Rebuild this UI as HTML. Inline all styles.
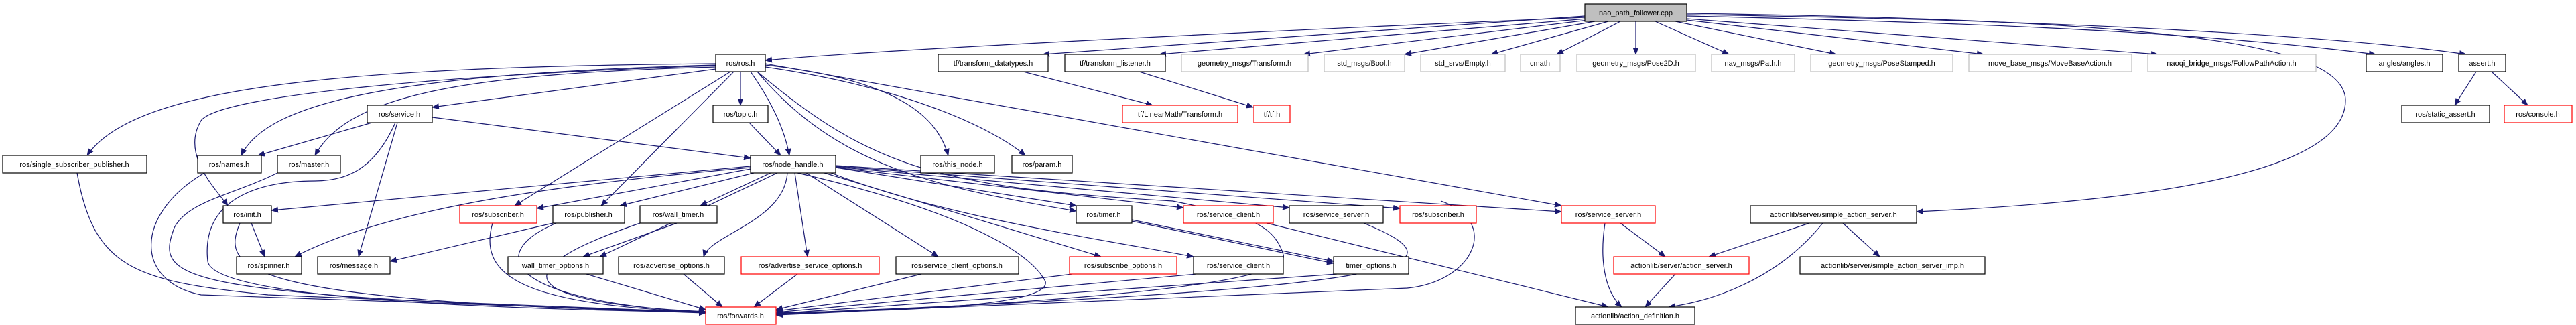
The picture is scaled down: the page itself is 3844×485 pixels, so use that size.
<!DOCTYPE html>
<html><head><meta charset="utf-8"><style>
html,body{margin:0;padding:0;background:#fff;}
svg{display:block;}
text{font-family:"Liberation Sans",sans-serif;font-size:11px;fill:#000;text-anchor:middle;}
.e{fill:none;stroke:#191970;stroke-width:1.2;}
.b{fill:#fff;stroke:#000;stroke-width:1.2;}
.g{fill:#fff;stroke:#bfbfbf;stroke-width:1.2;}
.r{fill:#fff;stroke:#ff0000;stroke-width:1.2;}
</style></head><body>
<svg width="3844" height="485" viewBox="0 0 3844 485" xmlns="http://www.w3.org/2000/svg">
<defs><marker id="a" markerUnits="userSpaceOnUse" markerWidth="11" markerHeight="9" refX="10" refY="4.5" orient="auto"><path d="M0,0 L11,4.5 L0,9 z" fill="#191970"/></marker></defs>
<g class="e" marker-end="url(#a)">
<path d="M2365,26 C1800,50 1300,75 1142,90"/>
<path d="M2365,24 L1556,81"/>
<path d="M2368,28 L1730,81"/>
<path d="M2370,30 L1945,81"/>
<path d="M2380,32 L2096,81"/>
<path d="M2400,32 L2225,81"/>
<path d="M2418,32 L2323,81"/>
<path d="M2441,32 L2441,81"/>
<path d="M2470,32 L2580,81"/>
<path d="M2500,32 L2740,81"/>
<path d="M2517,30 L2960,81"/>
<path d="M2517,28 L3220,81"/>
<path d="M2517,24 C3000,35 3300,50 3545,81"/>
<path d="M2517,22 C3100,30 3500,55 3680,81"/>
<path d="M2517,20 C3200,30 3500,60 3500,150 C3500,260 3200,300 2860,316"/>
<path d="M1068,95 C500,100 200,130 130,232"/>
<path d="M1068,97 C600,110 400,150 360,232"/>
<path d="M1068,100 C700,110 520,140 470,232"/>
<path d="M1068,98 C700,110 330,140 300,180 C270,230 320,280 340,307"/>
<path d="M1068,103 L645,160"/>
<path d="M1090,107 L768,307"/>
<path d="M1095,107 L897,307"/>
<path d="M1105,107 L1105,157"/>
<path d="M1120,107 C1150,150 1170,190 1178,232"/>
<path d="M1130,107 C1250,250 1400,280 1606,315"/>
<path d="M1142,97 C1350,120 1400,180 1415,232"/>
<path d="M1142,100 C1350,130 1480,190 1530,232"/>
<path d="M1142,95 L2330,307"/>
<path d="M555,183 L385,232"/>
<path d="M645,175 L1120,236"/>
<path d="M593,183 L535,383"/>
<path d="M1118,183 L1165,232"/>
<path d="M1120,248 L405,314"/>
<path d="M1120,250 C900,270 600,300 440,383"/>
<path d="M1120,252 L801,311"/>
<path d="M1125,258 L925,307"/>
<path d="M1150,258 L1045,307"/>
<path d="M1160,258 L895,383"/>
<path d="M1175,258 C1170,330 1060,350 1050,383"/>
<path d="M1186,258 L1205,383"/>
<path d="M1203,258 L1400,383"/>
<path d="M1230,258 L1643,383"/>
<path d="M1240,258 C1400,320 1600,350 1781,383"/>
<path d="M1247,250 L1606,307"/>
<path d="M1247,250 L1766,310"/>
<path d="M1247,249 L1924,310"/>
<path d="M1247,248 L2089,311"/>
<path d="M1247,247 L2330,316"/>
<path d="M1010,333 L870,383"/>
<path d="M825,333 L582,390"/>
<path d="M375,333 L395,383"/>
<path d="M1689,330 L1990,393"/>
<path d="M1689,328 L1990,390"/>
<path d="M1890,333 L2400,458"/>
<path d="M2418,333 L2485,383"/>
<path d="M2395,333 C2385,400 2400,440 2420,458"/>
<path d="M2700,333 L2550,383"/>
<path d="M2720,333 C2650,420 2550,450 2490,458"/>
<path d="M2750,333 L2805,383"/>
<path d="M2500,409 L2455,458"/>
<path d="M1527,107 L1720,157"/>
<path d="M1700,107 L1870,160"/>
<path d="M3695,107 L3663,157"/>
<path d="M3718,107 L3772,157"/>
<path d="M590,183 C560,250 520,270 470,270 C380,270 300,300 310,390 C320,450 800,462 1053,466"/>
<path d="M1190,258 C1500,330 1550,400 1560,420 C1570,460 1300,465 1158,466"/>
<path d="M955,333 C760,400 750,450 1053,465"/>
<path d="M830,333 C720,380 760,450 1053,466"/>
<path d="M735,333 C710,420 800,455 1053,466"/>
<path d="M358,333 C330,400 350,450 1053,466"/>
<path d="M115,258 C140,400 200,420 400,440 L1053,466"/>
<path d="M305,258 C200,320 200,420 300,440 L1053,466"/>
<path d="M414,258 C350,290 280,300 260,340 C230,420 260,440 1053,467"/>
<path d="M875,409 L1053,462"/>
<path d="M1020,409 L1078,458"/>
<path d="M1190,409 L1125,458"/>
<path d="M1375,409 L1158,462"/>
<path d="M1600,409 L1158,464"/>
<path d="M1785,409 L1158,466"/>
<path d="M1995,409 L1158,468"/>
<path d="M2035,333 C2200,400 2100,430 1158,468"/>
<path d="M2150,300 C2240,330 2200,420 2100,430 L1158,469"/>
<path d="M1130,107 C1300,250 1400,280 1750,300 C1850,320 1900,330 1915,380 C1930,430 1500,455 1158,470"/>
</g>
<g>
<rect x="2365" y="6" width="152" height="26" fill="#bfbfbf" stroke="#000" stroke-width="1.2"/><text x="2441" y="23">nao_path_follower.cpp</text>
<rect class="b" x="1068" y="81" width="74" height="26"/><text x="1105" y="98">ros/ros.h</text>
<rect class="b" x="1400" y="81" width="164" height="26"/><text x="1482" y="98">tf/transform_datatypes.h</text>
<rect class="b" x="1589" y="81" width="150" height="26"/><text x="1664" y="98">tf/transform_listener.h</text>
<rect class="g" x="1763" y="81" width="189" height="26"/><text x="1857" y="98">geometry_msgs/Transform.h</text>
<rect class="g" x="1976" y="81" width="120" height="26"/><text x="2036" y="98">std_msgs/Bool.h</text>
<rect class="g" x="2120" y="81" width="126" height="26"/><text x="2183" y="98">std_srvs/Empty.h</text>
<rect class="g" x="2269" y="81" width="59" height="26"/><text x="2298" y="98">cmath</text>
<rect class="g" x="2353" y="81" width="177" height="26"/><text x="2441" y="98">geometry_msgs/Pose2D.h</text>
<rect class="g" x="2554" y="81" width="124" height="26"/><text x="2616" y="98">nav_msgs/Path.h</text>
<rect class="g" x="2702" y="81" width="212" height="26"/><text x="2808" y="98">geometry_msgs/PoseStamped.h</text>
<rect class="g" x="2938" y="81" width="243" height="26"/><text x="3059" y="98">move_base_msgs/MoveBaseAction.h</text>
<rect class="g" x="3205" y="81" width="251" height="26"/><text x="3330" y="98">naoqi_bridge_msgs/FollowPathAction.h</text>
<rect class="b" x="3531" y="81" width="114" height="26"/><text x="3588" y="98">angles/angles.h</text>
<rect class="b" x="3669" y="81" width="70" height="26"/><text x="3704" y="98">assert.h</text>
<rect class="b" x="548" y="157" width="97" height="26"/><text x="596" y="174">ros/service.h</text>
<rect class="b" x="1064" y="157" width="82" height="26"/><text x="1105" y="174">ros/topic.h</text>
<rect class="r" x="1675" y="157" width="172" height="26"/><text x="1761" y="174">tf/LinearMath/Transform.h</text>
<rect class="r" x="1871" y="157" width="54" height="26"/><text x="1898" y="174">tf/tf.h</text>
<rect class="b" x="3584" y="157" width="131" height="26"/><text x="3649" y="174">ros/static_assert.h</text>
<rect class="r" x="3737" y="157" width="101" height="26"/><text x="3787" y="174">ros/console.h</text>
<rect class="b" x="4" y="232" width="215" height="26"/><text x="111" y="249">ros/single_subscriber_publisher.h</text>
<rect class="b" x="295" y="232" width="95" height="26"/><text x="342" y="249">ros/names.h</text>
<rect class="b" x="414" y="232" width="94" height="26"/><text x="461" y="249">ros/master.h</text>
<rect class="b" x="1120" y="232" width="127" height="26"/><text x="1183" y="249">ros/node_handle.h</text>
<rect class="b" x="1374" y="232" width="110" height="26"/><text x="1429" y="249">ros/this_node.h</text>
<rect class="b" x="1510" y="232" width="90" height="26"/><text x="1555" y="249">ros/param.h</text>
<rect class="b" x="333" y="307" width="72" height="26"/><text x="369" y="324">ros/init.h</text>
<rect class="r" x="686" y="307" width="115" height="26"/><text x="743" y="324">ros/subscriber.h</text>
<rect class="b" x="825" y="307" width="107" height="26"/><text x="878" y="324">ros/publisher.h</text>
<rect class="b" x="955" y="307" width="115" height="26"/><text x="1012" y="324">ros/wall_timer.h</text>
<rect class="b" x="1606" y="307" width="83" height="26"/><text x="1647" y="324">ros/timer.h</text>
<rect class="r" x="1766" y="307" width="134" height="26"/><text x="1833" y="324">ros/service_client.h</text>
<rect class="b" x="1924" y="307" width="140" height="26"/><text x="1994" y="324">ros/service_server.h</text>
<rect class="r" x="2089" y="307" width="114" height="26"/><text x="2146" y="324">ros/subscriber.h</text>
<rect class="r" x="2330" y="307" width="140" height="26"/><text x="2400" y="324">ros/service_server.h</text>
<rect class="b" x="2612" y="307" width="248" height="26"/><text x="2736" y="324">actionlib/server/simple_action_server.h</text>
<rect class="b" x="353" y="383" width="97" height="26"/><text x="401" y="400">ros/spinner.h</text>
<rect class="b" x="474" y="383" width="108" height="26"/><text x="528" y="400">ros/message.h</text>
<rect class="b" x="758" y="383" width="142" height="26"/><text x="829" y="400">wall_timer_options.h</text>
<rect class="b" x="923" y="383" width="158" height="26"/><text x="1002" y="400">ros/advertise_options.h</text>
<rect class="r" x="1106" y="383" width="206" height="26"/><text x="1209" y="400">ros/advertise_service_options.h</text>
<rect class="b" x="1337" y="383" width="183" height="26"/><text x="1428" y="400">ros/service_client_options.h</text>
<rect class="r" x="1596" y="383" width="160" height="26"/><text x="1676" y="400">ros/subscribe_options.h</text>
<rect class="b" x="1781" y="383" width="134" height="26"/><text x="1848" y="400">ros/service_client.h</text>
<rect class="b" x="1990" y="383" width="112" height="26"/><text x="2046" y="400">timer_options.h</text>
<rect class="r" x="2408" y="383" width="202" height="26"/><text x="2509" y="400">actionlib/server/action_server.h</text>
<rect class="b" x="2686" y="383" width="276" height="26"/><text x="2824" y="400">actionlib/server/simple_action_server_imp.h</text>
<rect class="r" x="1053" y="458" width="105" height="26"/><text x="1105" y="475">ros/forwards.h</text>
<rect class="b" x="2351" y="458" width="178" height="26"/><text x="2440" y="475">actionlib/action_definition.h</text>
</g>
</svg>
</body></html>
